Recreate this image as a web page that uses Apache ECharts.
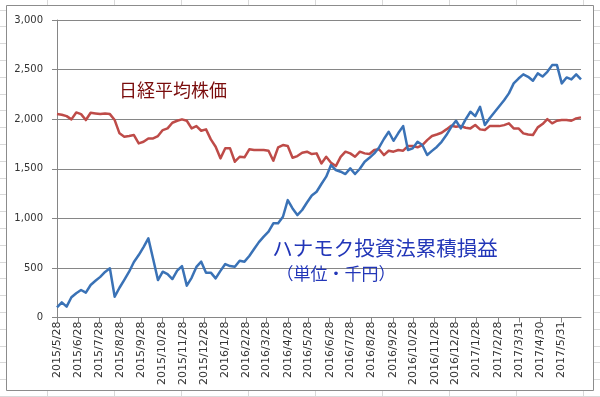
<!DOCTYPE html>
<html>
<head>
<meta charset="utf-8">
<script src="https://cdn.jsdelivr.net/npm/echarts@6/dist/echarts.min.js"></script>
<style>html,body{margin:0;padding:0;background:#fff}#c{width:600px;height:397px}</style>
</head>
<body>
<div id="c"></div>
<script>
const dates = [
'2015/5/28','2015/6/4','2015/6/11','2015/6/18','2015/6/25','2015/7/2','2015/7/9','2015/7/16','2015/7/23','2015/7/30',
'2015/8/6','2015/8/13','2015/8/20','2015/8/27','2015/9/3','2015/9/10','2015/9/17','2015/9/24','2015/10/1','2015/10/8',
'2015/10/15','2015/10/22','2015/10/29','2015/11/5','2015/11/12','2015/11/19','2015/11/26','2015/12/3','2015/12/10','2015/12/17',
'2015/12/24','2015/12/31','2016/1/7','2016/1/14','2016/1/21','2016/1/28','2016/2/4','2016/2/11','2016/2/18','2016/2/25',
'2016/3/3','2016/3/10','2016/3/17','2016/3/24','2016/3/31','2016/4/7','2016/4/14','2016/4/21','2016/4/28','2016/5/5',
'2016/5/12','2016/5/19','2016/5/26','2016/6/2','2016/6/9','2016/6/16','2016/6/23','2016/6/30','2016/7/7','2016/7/14',
'2016/7/21','2016/7/28','2016/8/4','2016/8/11','2016/8/18','2016/8/25','2016/9/1','2016/9/8','2016/9/15','2016/9/22',
'2016/9/29','2016/10/6','2016/10/13','2016/10/20','2016/10/27','2016/11/3','2016/11/10','2016/11/17','2016/11/24','2016/12/1',
'2016/12/8','2016/12/15','2016/12/22','2016/12/29','2017/1/5','2017/1/12','2017/1/19','2017/1/26','2017/2/2','2017/2/9',
'2017/2/16','2017/2/23','2017/3/2','2017/3/9','2017/3/16','2017/3/23','2017/3/30','2017/4/6','2017/4/13','2017/4/20',
'2017/4/27','2017/5/4','2017/5/11','2017/5/18','2017/5/25','2017/6/1','2017/6/8','2017/6/15','2017/6/22','2017/6/29'
];
const profit = [
103,153,109,204,245,277,250,328,370,410,
460,496,210,300,380,462,560,630,710,798,
590,378,462,438,388,472,519,321,400,510,
563,452,452,395,470,539,519,512,573,563,
620,690,760,815,865,950,950,1016,1184,1100,
1033,1084,1160,1230,1268,1346,1420,1537,1487,1470,
1447,1504,1447,1500,1571,1610,1655,1715,1800,1873,
1782,1860,1930,1689,1706,1772,1739,1638,1680,1720,
1772,1840,1920,1984,1907,1998,2075,2031,2125,1941,
2010,2070,2130,2190,2260,2361,2410,2452,2427,2387,
2462,2430,2478,2545,2545,2361,2421,2401,2452,2401
];
const nikkei = [
2051,2045,2031,1998,2068,2051,1991,2065,2058,2051,
2058,2051,1991,1857,1823,1830,1840,1756,1772,1806,
1806,1830,1890,1907,1964,1984,1998,1984,1907,1930,
1883,1897,1796,1722,1605,1706,1706,1571,1621,1615,
1696,1689,1689,1689,1682,1581,1716,1739,1729,1611,
1628,1661,1672,1648,1655,1554,1621,1561,1527,1620,
1672,1655,1621,1672,1655,1648,1689,1696,1638,1682,
1672,1689,1682,1729,1729,1716,1739,1789,1830,1845,
1863,1897,1933,1923,1930,1913,1907,1941,1897,1890,
1930,1930,1930,1940,1958,1907,1907,1857,1845,1840,
1917,1951,2001,1958,1984,1991,1991,1984,2008,2018
];
const tickLabels = [
'2015/5/28','2015/6/28','2015/7/28','2015/8/28','2015/9/28','2015/10/28','2015/11/28','2015/12/28',
'2016/1/28','2016/2/28','2016/3/28','2016/4/28','2016/5/28','2016/6/28','2016/7/28','2016/8/28',
'2016/9/28','2016/10/28','2016/11/28','2016/12/28','2017/1/28','2017/2/28','2017/3/31','2017/4/30','2017/5/31'
];
const seriesNames = ['ハナモク投資法累積損益', '日経平均株価'];

function toTime(s){ const p = s.split('/').map(Number); return Date.UTC(p[0], p[1]-1, p[2]); }
function fmtDate(v){ const d = new Date(v); return d.getUTCFullYear() + '/' + (d.getUTCMonth()+1) + '/' + d.getUTCDate(); }
const tickVals = tickLabels.map(toTime);

// Excel sheet background decoration
const bg = [];
for (let i = 0; i < 10; i++) {
  const x = 48 + 67 * i - 0.5;
  bg.push({type:'line', z:-3, shape:{x1:x,y1:0,x2:x,y2:397}, style:{stroke:'#d9d9d9', lineWidth:1}});
}
for (let i = -19; i < 6; i++) {
  const y = Math.round(312 + 16.8 * i) + 0.5;
  bg.push({type:'line', z:-3, shape:{x1:0,y1:y,x2:600,y2:y}, style:{stroke:'#d9d9d9', lineWidth:1}});
}
bg.push({type:'rect', z:-2, shape:{x:6.5,y:5.5,width:587,height:385}, style:{fill:'#fff', stroke:'#8c8c8c', lineWidth:1}});
bg.push({type:'text', z:10, style:{text:seriesNames[1], x:173, y:90, align:'center', verticalAlign:'middle', fill:'#7a0c0c', font:'18px "Noto Sans CJK JP"'}});
bg.push({type:'text', z:10, style:{text:seriesNames[0], x:385, y:248, align:'center', verticalAlign:'middle', fill:'#2236b8', font:'20.5px "Noto Sans CJK JP"'}});
bg.push({type:'text', z:10, style:{text:'（単位・千円）', x:336, y:274, align:'center', verticalAlign:'middle', fill:'#2236b8', font:'17px "Noto Sans CJK JP"'}});

const chart = echarts.init(document.getElementById('c'), null, {renderer:'canvas'});
chart.setOption({
  backgroundColor:'#fff',
  animation:false,
  graphic: bg,
  grid:{left:57, right:19, top:20, bottom:79.5},
  xAxis:{
    type:'value',
    min: toTime(dates[0]),
    max: toTime(dates[dates.length-1]),
    axisLine:{show:true, lineStyle:{color:'#868686', width:1}},
    axisTick:{show:true, customValues:tickVals, length:5, lineStyle:{color:'#868686'}},
    axisLabel:{customValues:tickVals, rotate:90, formatter:fmtDate, fontSize:11, color:'#333', margin:4, fontFamily:'"DejaVu Sans", sans-serif'},
    splitLine:{show:false}
  },
  yAxis:{
    type:'value', min:0, max:3000, interval:500,
    axisLine:{show:true, lineStyle:{color:'#868686', width:1}},
    axisTick:{show:true, length:5, lineStyle:{color:'#868686'}},
    splitLine:{show:true, lineStyle:{color:'#868686', width:1}},
    axisLabel:{formatter:v => v.toLocaleString('en-US'), fontSize:10, color:'#333', margin:14, fontFamily:'"DejaVu Sans", sans-serif'}
  },
  series:[
    {name:seriesNames[0], type:'line', data:dates.map((d,i)=>[toTime(d), profit[i]]), showSymbol:false, z:3,
     lineStyle:{width:2.5, color:'#3a72b6', join:'round'}, itemStyle:{color:'#3a72b6'}},
    {name:seriesNames[1], type:'line', data:dates.map((d,i)=>[toTime(d), nikkei[i]]), showSymbol:false, z:2,
     lineStyle:{width:2.5, color:'#be4b48', join:'round'}, itemStyle:{color:'#be4b48'}}
  ]
});
</script>
</body>
</html>
